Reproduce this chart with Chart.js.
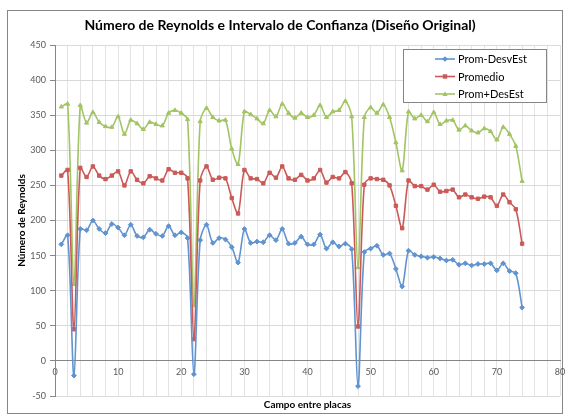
<!DOCTYPE html>
<html lang="es">
<head>
<meta charset="utf-8">
<title>Número de Reynolds e Intervalo de Confianza</title>
<script src="https://cdn.jsdelivr.net/npm/chart.js@4.4.1/dist/chart.umd.min.js"></script>
<style>
  html, body { margin: 0; padding: 0; background: #ffffff; }
  #wrap { width: 565px; height: 417px; }
</style>
</head>
<body>
<div id="wrap"><canvas id="grafico" width="565" height="417"></canvas></div>
<script>
// Campo entre placas (eje X)
const campos = [
  1, 2, 3, 4, 5, 6, 7, 8, 9, 10, 11, 12, 13, 14, 15, 16, 17, 18, 19, 20,
  21, 22, 23, 24, 25, 26, 27, 28, 29, 30, 31, 32, 33, 34, 35, 36, 37, 38, 39, 40,
  41, 42, 43, 44, 45, 46, 47, 48, 49, 50, 51, 52, 53, 54, 55, 56, 57, 58, 59, 60,
  61, 62, 63, 64, 65, 66, 67, 68, 69, 70, 71, 72, 73, 74
];

// Promedio - desviación estándar
const promMenosDesv = [
  166, 179, -21, 188, 186, 200, 188, 182, 195, 190, 179, 194, 178, 176, 187, 181, 178, 192, 179, 183,
  175, -19, 172, 194, 168, 175, 173, 162, 140, 188, 168, 170, 169, 179, 172, 188, 167, 168, 177, 166,
  166, 180, 160, 169, 163, 167, 159, -36, 155, 160, 164, 151, 153, 131, 106, 157, 151, 149, 147, 148,
  146, 143, 144, 137, 139, 136, 138, 138, 139, 129, 139, 128, 125, 76
];

// Promedio del número de Reynolds
const promedio = [
  264, 272, 45, 275, 262, 277, 264, 259, 264, 270, 250, 270, 258, 253, 263, 260, 257, 273, 268, 268,
  260, 31, 257, 277, 258, 261, 260, 232, 210, 272, 260, 259, 253, 268, 261, 277, 260, 258, 265, 257,
  260, 272, 254, 262, 260, 269, 253, 49, 251, 260, 259, 258, 250, 221, 189, 257, 249, 249, 244, 251,
  241, 242, 244, 233, 237, 233, 231, 234, 233, 221, 237, 226, 216, 167
];

// Promedio + desviación estándar
const promMasDesv = [
  362, 366, 109, 364, 339, 354, 340, 334, 333, 348, 323, 343, 338, 330, 340, 337, 335, 353, 357, 353,
  344, 79, 341, 360, 347, 342, 343, 302, 280, 355, 351, 345, 338, 357, 348, 366, 353, 346, 353, 347,
  350, 364, 347, 355, 357, 370, 348, 133, 347, 361, 353, 365, 347, 311, 271, 355, 345, 350, 341, 354,
  337, 342, 343, 329, 335, 328, 325, 331, 327, 315, 333, 323, 306, 256
];

const nombresSeries = ['Prom-DesvEst', 'Promedio', 'Prom+DesEst'];
const ticksX = [0, 10, 20, 30, 40, 50, 60, 70, 80];

const FUENTE = 'Lato, "Open Sans", "Liberation Sans", sans-serif';
const COLOR_EJE = '#868686';

function puntos(valores) {
  return campos.map((c, i) => ({ x: c, y: valores[i] }));
}

function serie(nombre, valores, color, marcador) {
  return {
    label: nombre,
    data: puntos(valores),
    borderColor: color,
    backgroundColor: color,
    borderWidth: 1.6,
    tension: 0.3,
    pointStyle: marcador,
    pointRadius: 2.4,
    pointHoverRadius: 2.4,
    pointBorderWidth: 1,
    fill: false
  };
}

// Fondo y marco del área del gráfico
const marco = {
  id: 'marco',
  beforeDraw(chart) {
    const ctx = chart.ctx;
    ctx.save();
    ctx.fillStyle = '#ffffff';
    ctx.fillRect(0, 0, chart.width, chart.height);
    ctx.strokeStyle = COLOR_EJE;
    ctx.lineWidth = 1;
    ctx.strokeRect(7.5, 10.5, 555, 403);
    ctx.restore();
  }
};

// Leyenda con recuadro, en la esquina superior derecha
function marcadorLeyenda(ctx, estilo, x, y, r) {
  ctx.beginPath();
  if (estilo === 'rect') {
    ctx.rect(x - r, y - r, 2 * r, 2 * r);
  } else if (estilo === 'rectRot') {
    ctx.moveTo(x, y - r * 1.3); ctx.lineTo(x + r * 1.3, y);
    ctx.lineTo(x, y + r * 1.3); ctx.lineTo(x - r * 1.3, y);
    ctx.closePath();
  } else {
    ctx.moveTo(x, y - r * 1.3); ctx.lineTo(x + r * 1.2, y + r * 0.9);
    ctx.lineTo(x - r * 1.2, y + r * 0.9);
    ctx.closePath();
  }
  ctx.fill();
}

const leyenda = {
  id: 'leyendaRecuadro',
  afterDraw(chart) {
    const ctx = chart.ctx;
    const caja = { x: 403.5, y: 49.5, w: 143, h: 53 };
    ctx.save();
    ctx.fillStyle = '#ffffff';
    ctx.fillRect(caja.x, caja.y, caja.w, caja.h);
    ctx.strokeStyle = COLOR_EJE;
    ctx.lineWidth = 1;
    ctx.strokeRect(caja.x, caja.y, caja.w, caja.h);
    ctx.font = '11px ' + FUENTE;
    ctx.textBaseline = 'middle';
    ctx.textAlign = 'left';
    chart.data.datasets.forEach((ds, i) => {
      const y = 59 + i * 17.5;
      ctx.strokeStyle = ds.borderColor;
      ctx.fillStyle = ds.borderColor;
      ctx.lineWidth = 1.6;
      ctx.beginPath();
      ctx.moveTo(435, y);
      ctx.lineTo(455, y);
      ctx.stroke();
      marcadorLeyenda(ctx, ds.pointStyle, 445, y, 2.2);
      ctx.fillStyle = '#000000';
      ctx.fillText(ds.label, 458, y + 0.5);
    });
    ctx.restore();
  }
};

new Chart(document.getElementById('grafico'), {
  type: 'line',
  data: {
    datasets: [
      serie(nombresSeries[0], promMenosDesv, '#6093cf', 'rectRot'),
      serie(nombresSeries[1], promedio, '#cb5a57', 'rect'),
      serie(nombresSeries[2], promMasDesv, '#a3c464', 'triangle')
    ]
  },
  options: {
    responsive: false,
    devicePixelRatio: 1,
    animation: false,
    events: [],
    layout: { padding: { left: 0, right: 5, top: 0, bottom: 0 } },
    plugins: {
      legend: { display: false },
      tooltip: { enabled: false },
      title: {
        display: true,
        text: 'Número de Reynolds e Intervalo de Confianza (Diseño Original)',
        color: '#000000',
        font: { family: FUENTE, size: 14, weight: 'bold', lineHeight: 1.2 },
        padding: { top: 17, bottom: 11.2 }
      }
    },
    scales: {
      x: {
        type: 'linear',
        position: { y: 0 },
        min: 0,
        max: 80,
        grid: { color: '#e3e3e3', lineWidth: 1, drawTicks: false },
        border: { display: true, color: COLOR_EJE, width: 1 },
        ticks: {
          stepSize: 2,
          autoSkip: false,
          maxRotation: 0,
          padding: 6,
          color: '#595959',
          font: { family: FUENTE, size: 9 },
          callback: (v) => (ticksX.includes(v) ? String(v) : '')
        },
        afterFit(scale) { scale.paddingLeft = 0; scale.paddingRight = 0; }
      },
      xTitulo: {
        type: 'linear',
        axis: 'x',
        position: 'bottom',
        grid: { display: false, drawTicks: false },
        border: { display: false },
        ticks: { display: false },
        title: {
          display: true,
          text: 'Campo entre placas',
          color: '#000000',
          font: { family: FUENTE, size: 10, weight: 'bold', lineHeight: 1.2 },
          padding: { top: 0, bottom: 6 }
        },
        afterFit(scale) { scale.height = 21; }
      },
      y: {
        type: 'linear',
        min: -50,
        max: 450,
        grid: { color: '#d9d9d9', lineWidth: 1, tickLength: 5, tickColor: COLOR_EJE },
        border: { display: true, color: COLOR_EJE, width: 1 },
        ticks: {
          stepSize: 50,
          padding: 4,
          color: '#595959',
          font: { family: FUENTE, size: 9 }
        },
        title: {
          display: true,
          text: 'Número de Reynolds',
          color: '#000000',
          font: { family: FUENTE, size: 10, weight: 'bold', lineHeight: 1.2 },
          padding: { top: 16, bottom: 0 }
        },
        afterFit(scale) { scale.width = 55; }
      }
    }
  },
  plugins: [marco, leyenda]
});
</script>
</body>
</html>
